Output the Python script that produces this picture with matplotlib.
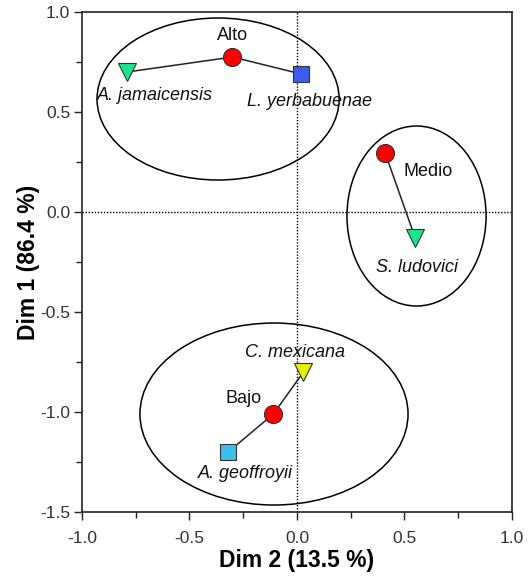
import matplotlib.pyplot as plt
from matplotlib.patches import Ellipse
from matplotlib.ticker import MultipleLocator

plt.rcParams['font.family'] = ['Liberation Sans', 'DejaVu Sans']

# habitat centroids (circles)
habitats = ['Alto', 'Medio', 'Bajo']
hab_x = [-0.30, 0.41, -0.11]
hab_y = [0.775, 0.295, -1.01]

# bat species and the habitat each is linked to
species = ['A. jamaicensis', 'L. yerbabuenae', 'S. ludovici', 'C. mexicana', 'A. geoffroyii']
sp_x = [-0.79, 0.02, 0.55, 0.03, -0.32]
sp_y = [0.70, 0.69, -0.13, -0.80, -1.20]
sp_hab = [0, 0, 1, 2, 2]
sp_marker = ['v', 's', 'v', 'v', 's']
sp_color = ['#19e68c', '#3a5cf0', '#19e68c', '#e8f000', '#3cc0ea']

# group ellipses: centre x, centre y, width, height
ell_cx = [-0.367, 0.556, -0.107]
ell_cy = [0.565, -0.02, -1.01]
ell_w = [1.126, 0.647, 1.247]
ell_h = [0.81, 0.90, 0.91]

fig = plt.figure(figsize=(5.31, 5.80), dpi=100)
ax = fig.add_axes([0.1544, 0.1172, 0.8098, 0.8621])

ax.axhline(0, color='black', lw=1, ls=(0, (1, 1.2)), zorder=1)
ax.axvline(0, color='black', lw=1, ls=(0, (1, 1.2)), zorder=1)

for cx, cy, w, h in zip(ell_cx, ell_cy, ell_w, ell_h):
    ax.add_patch(Ellipse((cx, cy), w, h, fill=False, ec='black', lw=1.1, zorder=2))

for i in range(len(species)):
    h = sp_hab[i]
    ax.plot([hab_x[h], sp_x[i]], [hab_y[h], sp_y[i]], color='#222222', lw=1.1, zorder=3)

for i in range(len(species)):
    size = 12 if sp_marker[i] == 's' else 13
    ax.plot(sp_x[i], sp_y[i], marker=sp_marker[i], ms=size, mfc=sp_color[i],
            mec='#333333', mew=0.8, ls='none', zorder=4)

ax.plot(hab_x, hab_y, 'o', ms=13, mfc='#ff0000', mec='#333333', mew=0.8, ls='none', zorder=5)

# text positions
hab_lx = [-0.30, 0.61, -0.25]
hab_ly = [0.885, 0.205, -0.93]
for name, lx, ly in zip(habitats, hab_lx, hab_ly):
    ax.text(lx, ly, name, fontsize=13, ha='center', va='center', color='#111111')

sp_lx = [-0.66, 0.056, 0.56, -0.01, -0.24]
sp_ly = [0.585, 0.555, -0.275, -0.70, -1.305]
for name, lx, ly in zip(species, sp_lx, sp_ly):
    ax.text(lx, ly, name, fontsize=13, style='italic', ha='center', va='center', color='#111111')

ax.set_xlim(-1.0, 1.0)
ax.set_ylim(-1.5, 1.0)
ax.xaxis.set_major_locator(MultipleLocator(0.5))
ax.xaxis.set_minor_locator(MultipleLocator(0.25))
ax.yaxis.set_major_locator(MultipleLocator(0.5))
ax.yaxis.set_minor_locator(MultipleLocator(0.25))
ax.xaxis.set_major_formatter(plt.FuncFormatter(lambda v, p: f'{v:.1f}'))
ax.yaxis.set_major_formatter(plt.FuncFormatter(lambda v, p: f'{v:.1f}'))
ax.tick_params(which='both', direction='out', width=1, colors='#222222', labelsize=12.5,
               labelcolor='#333333')
ax.tick_params(which='major', length=6)
ax.tick_params(which='minor', length=4)
ax.tick_params(axis='x', which='major', pad=8)
ax.tick_params(axis='y', which='major', pad=2.5)
for s in ax.spines.values():
    s.set_linewidth(1.2)
    s.set_color('#222222')

ax.set_xlabel('Dim 2 (13.5 %)', fontsize=16.5, fontweight='bold', labelpad=2)
ax.set_ylabel('Dim 1 (86.4 %)', fontsize=16.5, fontweight='bold')
ax.yaxis.set_label_coords(-0.098, 0.5)

fig.savefig('out.png', dpi=100)
